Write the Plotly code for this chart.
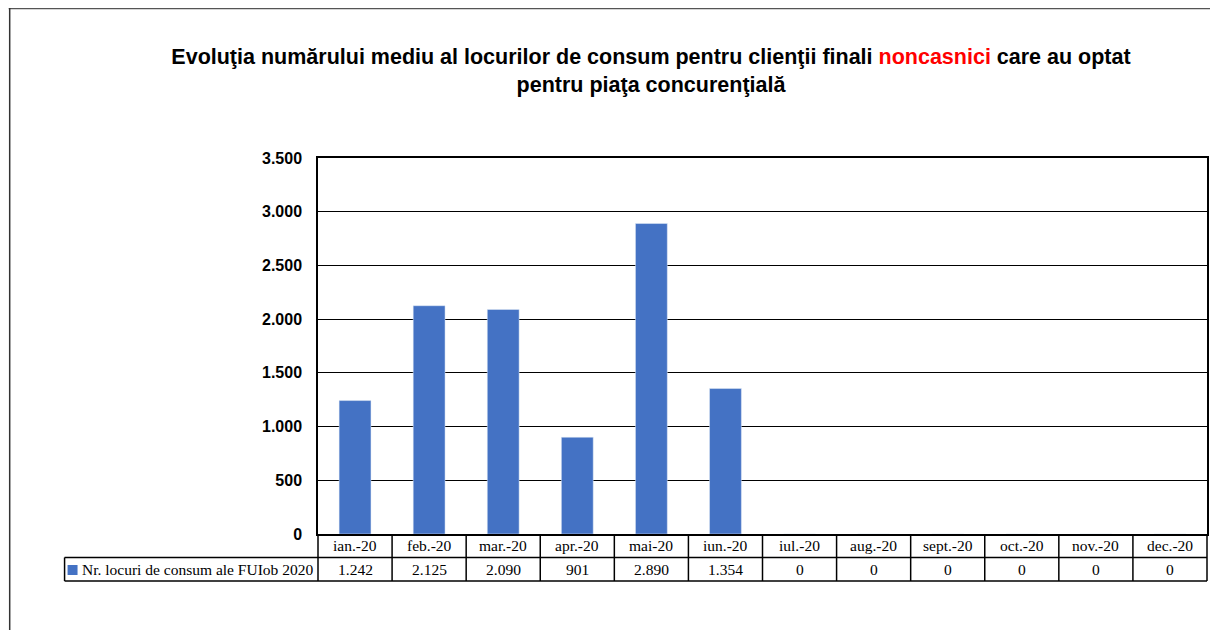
import plotly.graph_objects as go

categories = ["ian.-20", "feb.-20", "mar.-20", "apr.-20", "mai-20", "iun.-20",
              "iul.-20", "aug.-20", "sept.-20", "oct.-20", "nov.-20", "dec.-20"]
values = [1242, 2125, 2090, 901, 2890, 1354, 0, 0, 0, 0, 0, 0]
series_name = "Nr. locuri de consum ale FUIob 2020"
y_ticks = [0, 500, 1000, 1500, 2000, 2500, 3000, 3500]

# page body margin offset (browser default 8px)
O = 8
W, H = 1218 - O, 630 - O
L, R, T, B = 318 - O, 1209 - O, 158 - O, 534 - O
pw, ph = R - L, B - T

def px_x(p):
    return (p - O - L) / pw

def px_y(p):
    return (B - (p - O)) / ph

bar_color = "#4472C4"
serif = "Liberation Serif, Times New Roman, serif"
sans = "Liberation Sans, Arial, sans-serif"

fig = go.Figure(go.Bar(x=categories, y=values, marker_color=bar_color,
                       width=0.43, name=series_name, showlegend=False))

def fmt(v):
    return f"{v:,}".replace(",", ".")

n = len(categories)
row1 = px_y(557.5)
row2 = px_y(581)
leg_x = px_x(64)

shapes = []
line = dict(color="black", width=1.5)
for i in range(n + 1):
    shapes.append(dict(type="line", xref="paper", yref="paper",
                       x0=i / n, x1=i / n, y0=0, y1=row2, line=line))
shapes.append(dict(type="line", xref="paper", yref="paper", x0=leg_x, x1=1,
                   y0=row1, y1=row1, line=line))
shapes.append(dict(type="line", xref="paper", yref="paper", x0=leg_x, x1=1,
                   y0=row2, y1=row2, line=line))
shapes.append(dict(type="line", xref="paper", yref="paper", x0=leg_x, x1=leg_x,
                   y0=row1, y1=row2, line=line))
shapes.append(dict(type="rect", xref="paper", yref="paper",
                   x0=px_x(67), x1=px_x(77), y0=px_y(565), y1=px_y(575),
                   fillcolor=bar_color, line=dict(width=0)))
shapes.append(dict(type="line", xref="paper", yref="paper", x0=px_x(8), x1=px_x(1218),
                   y0=px_y(8.5), y1=px_y(8.5), line=dict(color="#555", width=1.5)))
shapes.append(dict(type="line", xref="paper", yref="paper", x0=px_x(9), x1=px_x(9),
                   y0=px_y(8), y1=px_y(640), line=dict(color="#333", width=1.5)))

annotations = []
for c, v in zip(categories, values):
    annotations.append(dict(x=c, xref="x", y=(0 + row1) / 2, yref="paper",
                            text=c, showarrow=False, yanchor="middle",
                            font=dict(family=serif, size=15.5, color="black")))
    annotations.append(dict(x=c, xref="x", y=(row1 + row2) / 2, yref="paper",
                            text=fmt(v), showarrow=False, yanchor="middle",
                            font=dict(family=serif, size=15.5, color="black")))
annotations.append(dict(x=px_x(79), xref="paper", y=(row1 + row2) / 2, yref="paper",
                        text=series_name, showarrow=False, xanchor="left",
                        yanchor="middle",
                        font=dict(family=serif, size=15.5, color="black")))

fig.update_layout(
    width=W, height=H,
    margin=dict(l=L, r=W - R, t=T, b=H - B),
    paper_bgcolor="white", plot_bgcolor="white",
    separators=",.",
    title=dict(
        text="Evoluţia numărului mediu al locurilor de consum pentru clienţii finali "
             "<span style='color:#FF0000'>noncasnici</span> care au optat<br>"
             "pentru piaţa concurenţială",
        x=(651 - O) / W, xanchor="center", xref="container",
        y=1 - (64 - O) / H, yanchor="top", yref="container",
        font=dict(family=sans, size=21.5, color="black", weight="bold"),
    ),
    xaxis=dict(range=[-0.5, n - 0.5], showticklabels=False, showgrid=False,
               showline=True, linecolor="black", linewidth=1.5, mirror=True,
               ticks="", zeroline=False),
    yaxis=dict(range=[0, 3500], tickvals=y_ticks, tickformat=",d",
               showgrid=True, gridcolor="black", gridwidth=1,
               showline=True, linecolor="black", linewidth=1.5, mirror=True,
               zeroline=False, ticks="", ticklabelstandoff=11,
               tickfont=dict(family=sans, size=16, color="black", weight="bold")),
    shapes=shapes,
    annotations=annotations,
    bargap=0.57,
)

fig.write_html("out.html")
